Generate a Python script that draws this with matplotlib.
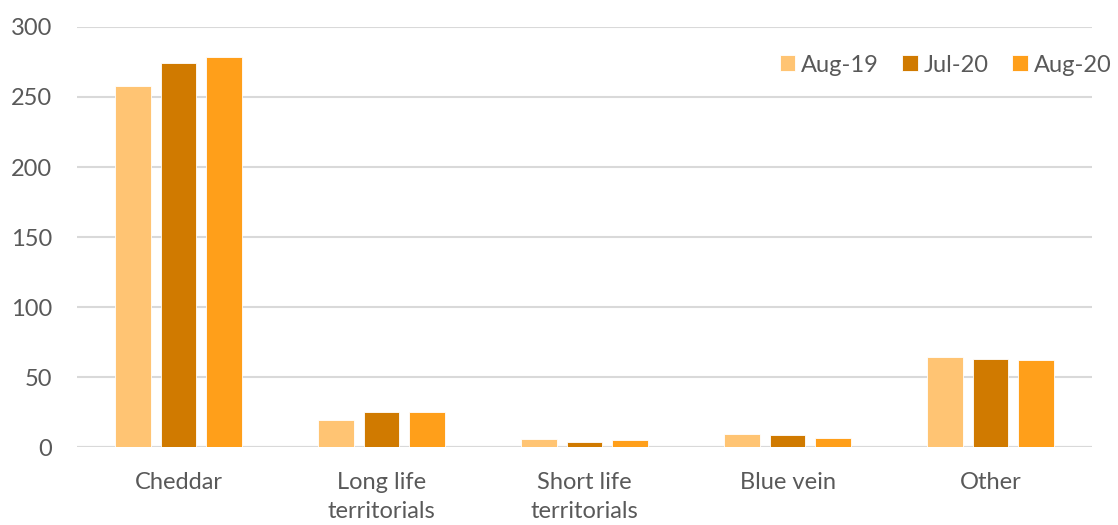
import numpy as np
import matplotlib
matplotlib.use("Agg")
import matplotlib.pyplot as plt

# ── Data ────────────────────────────────────────────────────
categories = ["Cheddar", "Long life\nterritorials", "Short life\nterritorials", "Blue vein", "Other"]
series_names = ["Aug-19", "Jul-20", "Aug-20"]
aug19 = [258, 19.5, 5.5, 9.3, 64.3]
jul20 = [274, 25, 3.8, 8.6, 63]
aug20 = [278.5, 25.2, 5.2, 6.5, 62]
colors = ["#FFC473", "#D07A00", "#FF9F1A"]

plt.rcParams['font.family'] = ['Lato', 'DejaVu Sans']

fig = plt.figure(figsize=(11.18, 5.25), dpi=100)
ax = fig.add_axes([77/1118, 78/525, 1015/1118, 420/525])

x = np.arange(len(categories))
width = 0.177
offset = 0.222
for i, (vals, name) in enumerate(zip([aug19, jul20, aug20], series_names)):
    ax.bar(x + (i - 1) * offset, vals, width, color=colors[i], label=name,
           edgecolor="white", linewidth=0.6, zorder=3)

ax.set_xlim(-0.5, len(categories) - 0.5)
ax.set_ylim(0, 300)
ax.set_yticks(range(0, 301, 50))
ax.set_xticks(x)
ax.set_xticklabels(categories, linespacing=1.5)
ax.grid(axis='y', color='#D9D9D9', linewidth=1.5, zorder=0)
for s in ['top', 'right', 'left', 'bottom']:
    ax.spines[s].set_visible(False)
ax.axhline(0, color='#D9D9D9', linewidth=1.5, zorder=2)
ax.tick_params(axis='both', length=0, labelsize=17, colors='#595959')
ax.tick_params(axis='x', pad=18)
ax.tick_params(axis='y', pad=18)

ax.legend(loc='upper right', bbox_to_anchor=(1.04, 0.985), ncol=3, frameon=False,
          fontsize=17, labelcolor='#595959', handlelength=0.65, handleheight=0.65,
          handletextpad=0.25, columnspacing=1.0)

fig.savefig("out.png", dpi=100)
